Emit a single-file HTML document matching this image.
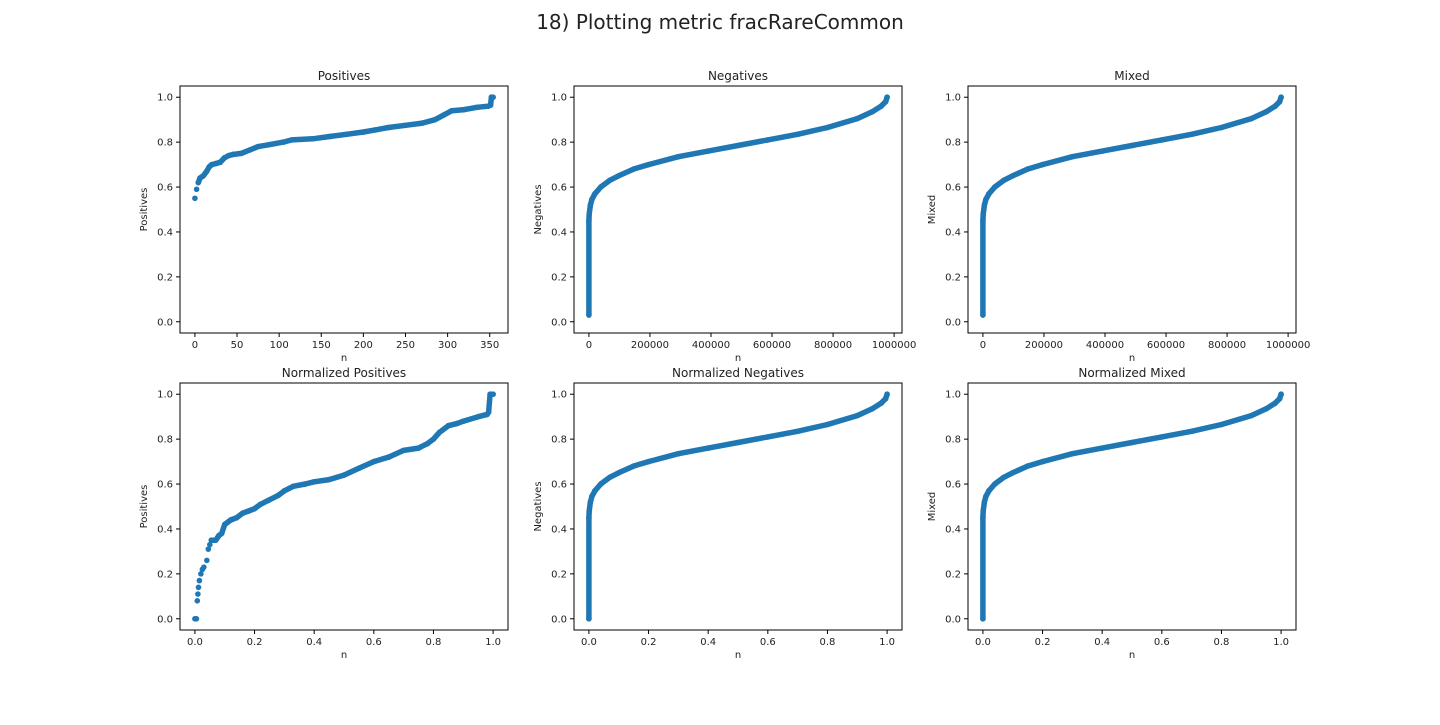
<!DOCTYPE html>
<html><head><meta charset="utf-8"><style>
body{margin:0;background:#fff;font-family:"Liberation Sans","DejaVu Sans",sans-serif;}
svg text{font-family:"DejaVu Sans","Liberation Sans",sans-serif;fill:#222;}
</style></head><body>
<svg id="fig" width="1440" height="720" xmlns="http://www.w3.org/2000/svg">
<rect width="1440" height="720" fill="#fff"/>
<text x="720" y="29" font-size="20" text-anchor="middle">18) Plotting metric fracRareCommon</text>
</svg>
<script>
// Positives (n, value)
const posN = [0,2,4,6,8,10,14,17,20,25,30,35,40,45,55,65,75,90,105,115,140,160,180,200,215,230,250,270,285,295,305,320,335,348,351,352,354];
const posV = [0.55,0.59,0.62,0.64,0.645,0.65,0.67,0.69,0.70,0.705,0.71,0.73,0.74,0.745,0.75,0.765,0.78,0.79,0.80,0.81,0.815,0.825,0.835,0.845,0.855,0.865,0.875,0.885,0.90,0.92,0.94,0.945,0.955,0.96,0.965,1.0,1.0];
// Normalized positives
const nposX = [0,0.005,0.008,0.01,0.012,0.015,0.02,0.025,0.03,0.04,0.045,0.05,0.055,0.07,0.08,0.09,0.1,0.12,0.14,0.16,0.18,0.2,0.22,0.25,0.28,0.3,0.33,0.37,0.4,0.45,0.5,0.55,0.6,0.65,0.7,0.75,0.78,0.8,0.82,0.85,0.88,0.9,0.95,0.98,0.985,0.99,1.0];
const nposV = [0,0,0.08,0.11,0.14,0.17,0.2,0.22,0.23,0.26,0.31,0.33,0.35,0.35,0.37,0.38,0.42,0.44,0.45,0.47,0.48,0.49,0.51,0.53,0.55,0.57,0.59,0.6,0.61,0.62,0.64,0.67,0.70,0.72,0.75,0.76,0.78,0.80,0.83,0.86,0.87,0.88,0.90,0.91,0.92,1.0,1.0];
// Negatives / Mixed (normalized n, value)
const negX = [0,0,0.001,0.005,0.01,0.02,0.04,0.07,0.1,0.15,0.2,0.3,0.4,0.5,0.6,0.7,0.8,0.9,0.95,0.98,0.995,1.0];
const negV = [0.03,0.45,0.48,0.52,0.545,0.57,0.60,0.63,0.65,0.68,0.70,0.735,0.76,0.785,0.81,0.835,0.865,0.905,0.935,0.96,0.98,1.0];
const nnegV = [0.0,0.45,0.48,0.52,0.545,0.57,0.60,0.63,0.65,0.68,0.70,0.735,0.76,0.785,0.81,0.835,0.865,0.905,0.935,0.96,0.98,1.0];
const negTotal = 977000;
const xTicksBig = [0,200000,400000,600000,800000,1000000];
const xTicksPos = [0,50,100,150,200,250,300,350];
const xTicksNorm = [0,0.2,0.4,0.6,0.8,1.0];
const yTicks = [0,0.2,0.4,0.6,0.8,1.0];

const svg = document.getElementById('fig');
const NS = 'http://www.w3.org/2000/svg';
function mk(tag, attrs, parent){const e=document.createElementNS(NS,tag);for(const k in attrs)e.setAttribute(k,attrs[k]);(parent||svg).appendChild(e);return e;}

function panel(key, left, top, title, ylabel, xmin, xmax, xticks, xfmt, xs, ys, dense){
  const W=328,H=247;
  const g=mk('g',{});
  
  
  const dx=(xmax-xmin)*0.05, dy=0.05;
  const x0=xmin-dx, x1=xmax+dx, y0=-dy, y1=1+dy;
  const X=v=>left+(v-x0)/(x1-x0)*W;
  const Y=v=>top+H-(v-y0)/(y1-y0)*H;
  const t=mk('text',{x:left+W/2,y:top-6,'font-size':12,'text-anchor':'middle'},g);t.textContent=title;
  
  
  const pts=xs.map((v,i)=>X(v).toFixed(1)+','+Y(ys[i]).toFixed(1));
  const start=dense;
  if(xs.length-start>1){
    const pl=mk('polyline',{points:pts.slice(start).join(' '),fill:'none',stroke:'#1f77b4','stroke-width':5.5,'stroke-linecap':'round','stroke-linejoin':'round'},g);
    
    
  }
  xs.forEach((v,i)=>{
    const c=mk('circle',{cx:X(v),cy:Y(ys[i]),r:2.8,fill:'#1f77b4'},g);
    
    
  });
  const fr=mk('rect',{x:left,y:top,width:W,height:H,fill:'none',stroke:'#000','stroke-width':1},g);
  
  
  xticks.forEach(v=>{
    const px=X(v);
    mk('line',{x1:px,x2:px,y1:top+H,y2:top+H+4,stroke:'#000'},g);
    const tx=mk('text',{x:px,y:top+H+15,'font-size':10,'text-anchor':'middle'},g);tx.textContent=xfmt(v);
    
    
  });
  yTicks.forEach(v=>{
    const py=Y(v);
    mk('line',{x1:left-4,x2:left,y1:py,y2:py,stroke:'#000'},g);
    const ty=mk('text',{x:left-7,y:py+3.5,'font-size':10,'text-anchor':'end'},g);ty.textContent=v.toFixed(1);
    
    
  });
  const xl=mk('text',{x:left+W/2,y:top+H+28,'font-size':10,'text-anchor':'middle'},g);xl.textContent='n';
  
  
  const cy=top+H/2;
  const yl=mk('text',{x:left-33,y:cy,'font-size':10,'text-anchor':'middle',transform:'rotate(-90 '+(left-33)+' '+cy+')'},g);yl.textContent=ylabel;
  
  
}
const negN = negX.map(v=>v*negTotal);
const fInt=v=>String(v), fNorm=v=>v.toFixed(1);
panel('positives',180,86,'Positives','Positives',0,354,xTicksPos,fInt,posN,posV,2);
panel('negatives',574,86,'Negatives','Negatives',0,negTotal,xTicksBig,fInt,negN,negV,0);
panel('mixed',968,86,'Mixed','Mixed',0,negTotal,xTicksBig,fInt,negN,negV,0);
panel('norm-positives',180,383,'Normalized Positives','Positives',0,1,xTicksNorm,fNorm,nposX,nposV,12);
panel('norm-negatives',574,383,'Normalized Negatives','Negatives',0,1,xTicksNorm,fNorm,negX,nnegV,0);
panel('norm-mixed',968,383,'Normalized Mixed','Mixed',0,1,xTicksNorm,fNorm,negX,nnegV,0);
</script>
</body></html>
